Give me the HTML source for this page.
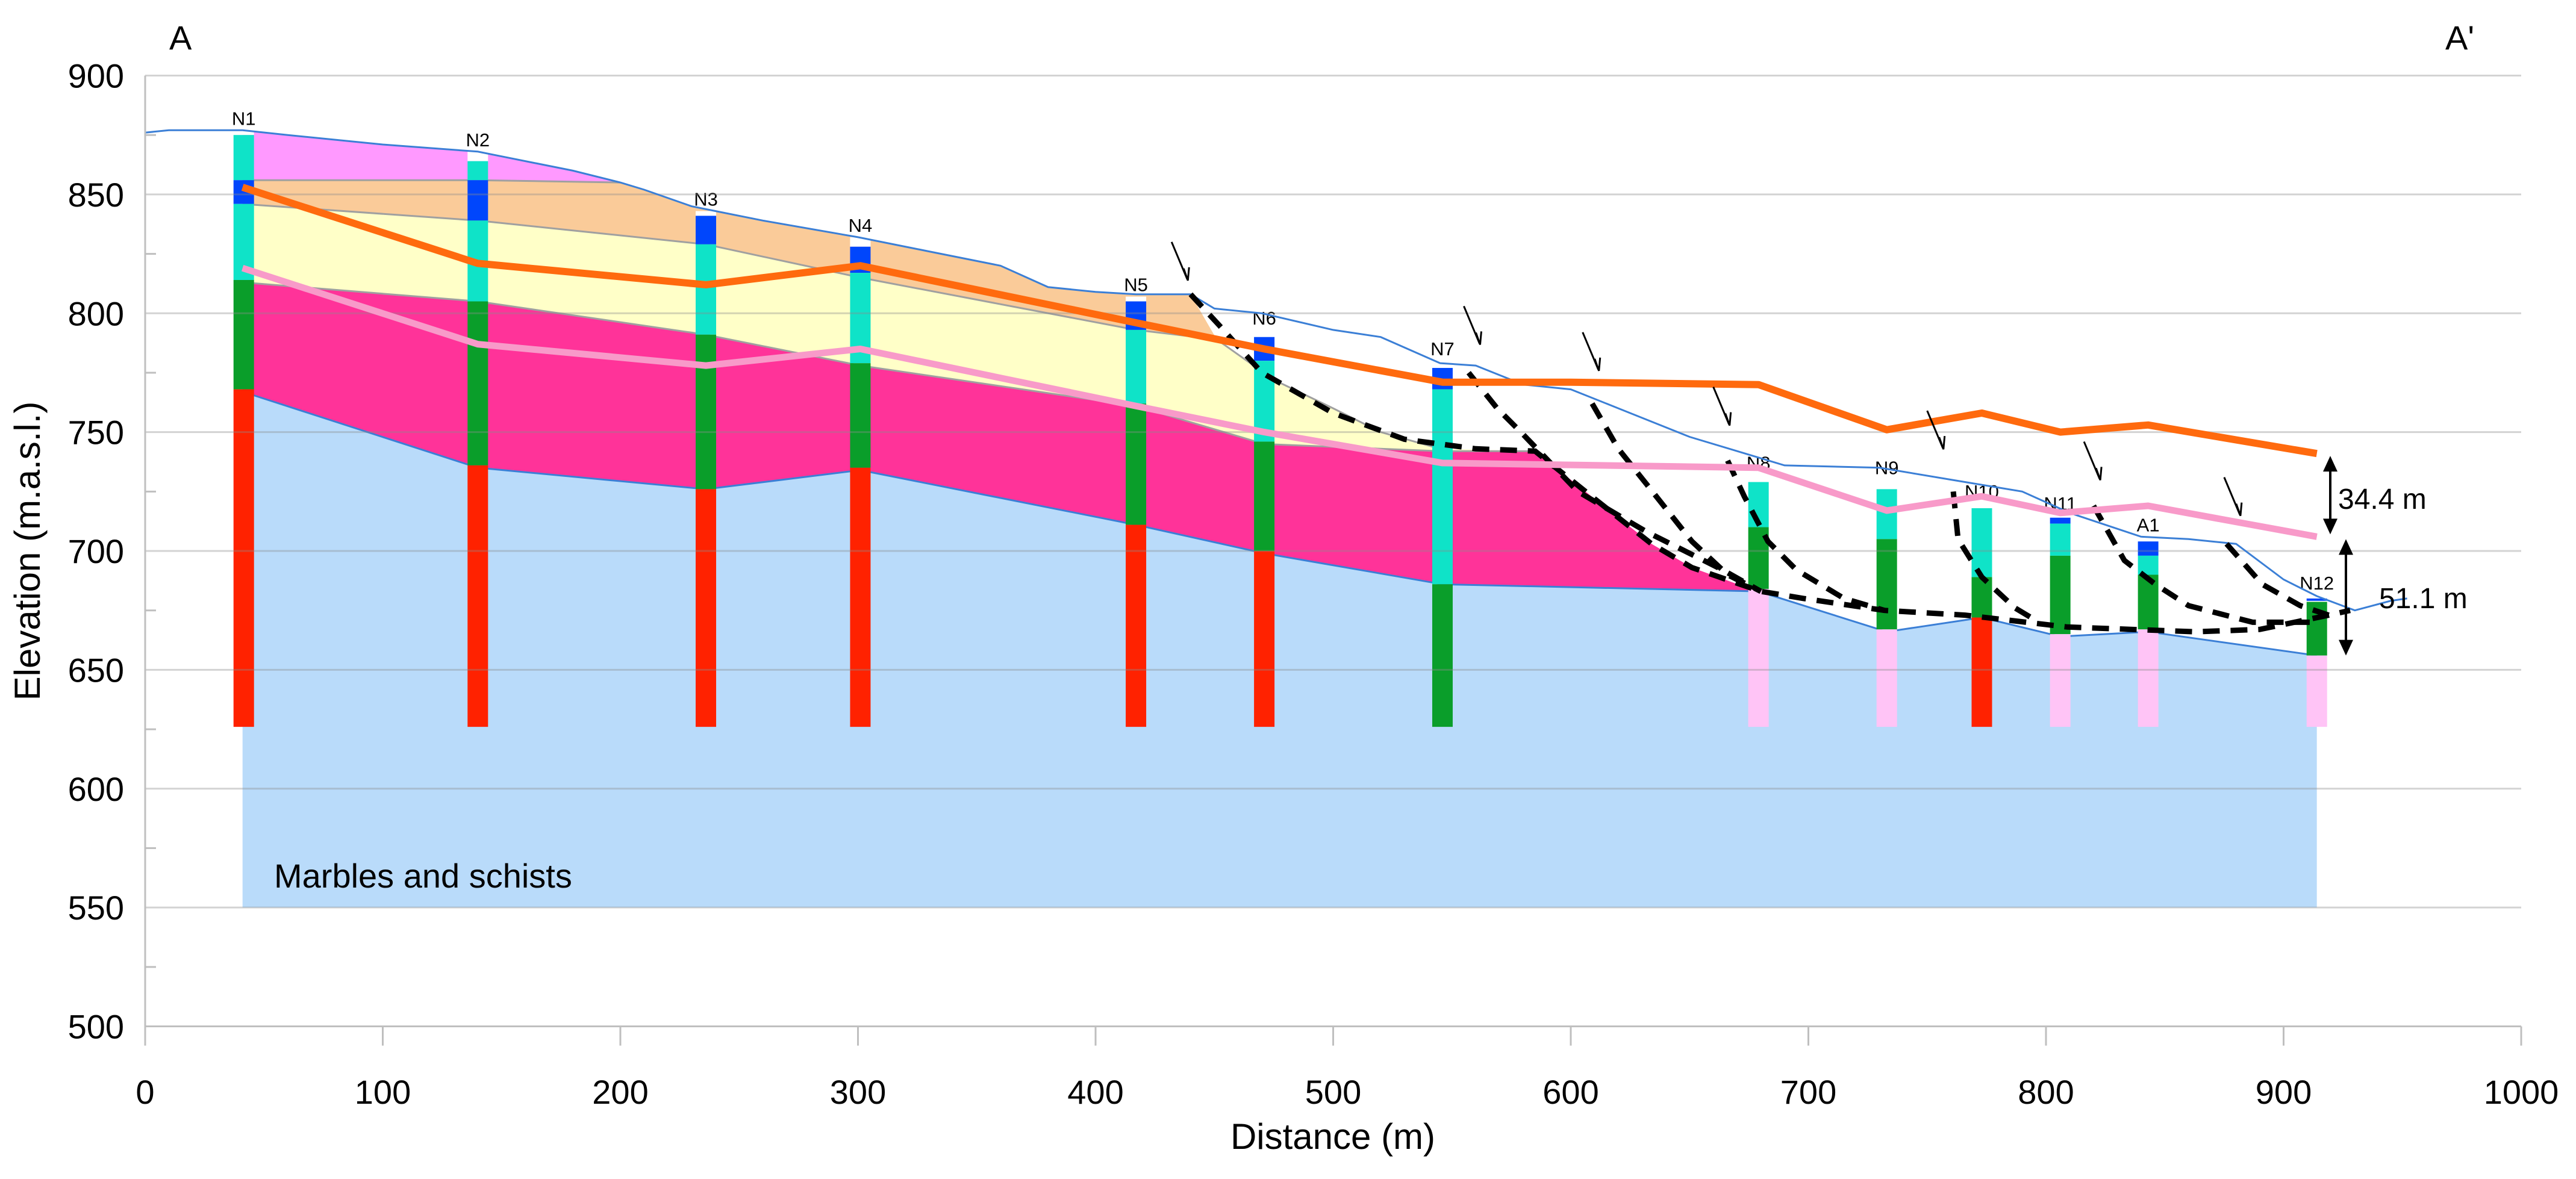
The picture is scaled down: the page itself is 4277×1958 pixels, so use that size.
<!DOCTYPE html>
<html><head><meta charset="utf-8"><style>
html,body{margin:0;padding:0;background:#fff;}
svg{display:block;font-family:"Liberation Sans",sans-serif;}
</style></head><body>
<svg id="chart" width="4277" height="1958" viewBox="0 0 4277 1958" xmlns="http://www.w3.org/2000/svg">
<g id="fills"></g>
<g id="holes"></g>
<g id="grid"></g>
<g id="lines"></g>
<g id="axes"></g>
<text x="281" y="82" font-size="56">A</text>
<text x="4060" y="82" font-size="56">A'</text>
<text x="455" y="1474" font-size="56">Marbles and schists</text>
<text x="2213" y="1908" font-size="60" text-anchor="middle">Distance (m)</text>
<text transform="translate(66,915) rotate(-90)" font-size="60" text-anchor="middle">Elevation (m.a.s.l.)</text>
</svg>
<script>
const X0=241, XS=3.945, Y900=125.5, YS=3.9475;
function X(m){return X0+m*XS;}
function Y(e){return Y900+(900-e)*YS;}
const NS='http://www.w3.org/2000/svg';
function mk(parent,tag,attrs){const el=document.createElementNS(NS,tag);for(const k in attrs)el.setAttribute(k,attrs[k]);document.getElementById(parent).appendChild(el);return el;}
function pts(a){return a.map(p=>X(p[0]).toFixed(1)+','+Y(p[1]).toFixed(1)).join(' ');}

const xTicks=[0,100,200,300,400,500,600,700,800,900,1000];
const yTicks=[500,550,600,650,700,750,800,850,900];
const yMinor=[525,575,625,675,725,775,825,875];

const topo=[[0,876],[10,877],[41,877],[60,875],[100,871],[140,868],[150,866],[180,860],[200,855],[210,852],[230,845],[240,843],[260,839],[300,832],[330,826],[360,820],[380,811],[400,809],[417,808],[440,808],[450,802],[470,800],[500,793],[520,790],[545,779],[560,778],[580,770],[600,768],[620,760],[650,748],[670,742],[690,736],[730,735],[760,730],[790,725],[810,716],[840,706],[860,705],[880,703],[900,688],[914,681],[930,675],[945,679],[952,680]];
const pinkTopBase=[[41,856],[140,856],[200,855]];
const orangeBase=[[41,846],[140,839],[236,829],[301,815],[417,793],[451,789]];
const yellowBase=[[41,813],[140,805],[236,791],[301,778],[417,761],[471,745],[545,742],[585,742]];
const yellowRight=[[451,789],[475,772],[500,760],[520,750],[545,743]];
const magentaRight=[[585,742],[610,722],[634,703],[651,693],[673,685],[679,683]];
const marbleTop=[[41,767],[140,735],[236,726],[301,734],[417,711],[471,699],[546,686],[679,683],[733,666],[773,672],[806,664],[843,666],[914,656]];
const marbleBottom=550;

const waterOrange=[[41,853],[140,821],[236,812],[301,820],[417,796],[471,785],[546,771],[600,771],[679,770],[733,751],[773,758],[806,750],[843,753],[914,741]];
const waterPink=[[41,819],[140,787],[236,778],[301,785],[417,761],[471,750],[546,737],[679,735],[733,717],[773,723],[806,716],[843,719],[914,706]];

const slip1=[[440,808],[452,795],[470,775],[500,758],[530,747],[560,743],[585,742],[610,722],[634,703],[651,693],[680,683],[698,680],[732,675],[766,673],[809,668],[863,666],[890,667],[919,673],[928,675]];
const slip2=[[557,775],[569,760],[579,750],[603,725],[632,708],[664,692],[680,683]];
const slip3=[[609,762],[620,743],[632,728],[651,704],[666,690],[680,683]];
const slip4=[[666,738],[673,723],[683,704],[695,692],[715,680],[732,675]];
const slip5=[[761,725],[763,705],[773,689],[787,676],[797,670]];
const slip6=[[820,719],[833,696],[846,686],[860,677],[887,670],[911,670]];
const slip7=[[876,703],[891,686],[907,677],[919,673]];
const scarpArrows=[[432,830],[555,803],[605,792],[660,769],[750,759],[816,746],[875,731]];

const holeNames=['N1','N2','N3','N4','N5','N6','N7','N8','N9','N10','N11','A1','N12'];
const holeX=[41.5,140,236,301,417,471,546,679,733,773,806,843,914];
const holeSegs=[
 [[877,875,'w'],[875,856,'c'],[856,846,'b'],[846,814,'c'],[814,768,'g'],[768,626,'r']],
 [[868,864,'w'],[864,856,'c'],[856,839,'b'],[839,805,'c'],[805,736,'g'],[736,626,'r']],
 [[843,841,'w'],[841,829,'b'],[829,791,'c'],[791,726,'g'],[726,626,'r']],
 [[832,828,'w'],[828,817,'b'],[817,779,'c'],[779,735,'g'],[735,626,'r']],
 [[807,805,'w'],[805,793,'b'],[793,762,'c'],[762,711,'g'],[711,626,'r']],
 [[793,790,'w'],[790,780,'b'],[780,746,'c'],[746,700,'g'],[700,626,'r']],
 [[780,777,'w'],[777,768,'b'],[768,686,'c'],[686,626,'g']],
 [[732,729,'w'],[729,710,'c'],[710,684,'g'],[684,626,'p']],
 [[730,726,'w'],[726,705,'c'],[705,667,'g'],[667,626,'p']],
 [[720,718,'w'],[718,689,'c'],[689,672,'g'],[672,626,'r']],
 [[715,714,'w'],[714,711.5,'b'],[711.5,698,'c'],[698,665,'g'],[665,626,'p']],
 [[706,704,'w'],[704,698,'b'],[698,690,'c'],[690,667,'g'],[667,626,'p']],
 [[681.5,680,'w'],[680,679,'b'],[679,678.6,'w'],[678.6,656,'g'],[656,626,'p']]
];
const segColor={w:'#ffffff',c:'#0fe3c8',b:'#0046fc',g:'#0a9e2a',r:'#ff2200',p:'#ffc4f6'};

function topoBetween(a,b){return topo.filter(p=>p[0]>a&&p[0]<b);}
let el;
el=mk('fills','polygon',{points:pts([...marbleTop,[914,marbleBottom],[41,marbleBottom]]),fill:'#b9dbfa'});


el=mk('fills','polygon',{points:pts([...yellowBase,...magentaRight.slice(1),...marbleTop.slice(0,8).reverse()]),fill:'#ff3399'});


el=mk('fills','polygon',{points:pts([...orangeBase,...yellowRight.slice(1),...yellowBase.slice().reverse()]),fill:'#ffffc8'});


el=mk('fills','polygon',{points:pts([...pinkTopBase,...topoBetween(200,440),[440,808],...orangeBase.slice().reverse()]),fill:'#facb99'});


el=mk('fills','polygon',{points:pts([[41,877],...topoBetween(41,200),...pinkTopBase.slice().reverse()]),fill:'#ff99ff'});


[pinkTopBase,orangeBase,yellowBase,yellowRight].forEach(b=>{
 el=mk('fills','polyline',{points:pts(b),fill:'none',stroke:'#a0a0a0','stroke-width':3});
 
 
});
el=mk('fills','polyline',{points:pts(marbleTop),fill:'none',stroke:'#3b7fd6','stroke-width':3});



holeX.forEach((hx,i)=>{
 holeSegs[i].forEach(s=>{
  const r=mk('holes','rect',{x:X(hx)-17,y:Y(s[0]),width:34,height:Math.max(1,Y(s[1])-Y(s[0])),fill:segColor[s[2]]});
  
  
 });
 const t=mk('holes','text',{x:X(hx),y:Y(holeSegs[i][0][0])-9,'font-size':31,'text-anchor':'middle'});
 t.textContent=holeNames[i];
 
 
});

yTicks.forEach(v=>{
 if(v===500)return;
 const g=mk('grid','line',{x1:X(0),x2:X(1000),y1:Y(v),y2:Y(v),stroke:'rgba(140,140,140,0.38)','stroke-width':3});
 
 
});

el=mk('lines','polyline',{points:pts(topo),fill:'none',stroke:'#3b7fd6','stroke-width':3});


[slip1,slip2,slip3,slip4,slip5,slip6,slip7].forEach(s=>{
 const d=mk('lines','polyline',{points:pts(s),fill:'none',stroke:'#000','stroke-width':9,'stroke-dasharray':'28,18'});
 
 
});
el=mk('lines','polyline',{points:pts(waterPink),fill:'none',stroke:'#f89ac9','stroke-width':11,'stroke-linejoin':'round'});


el=mk('lines','polyline',{points:pts(waterOrange),fill:'none',stroke:'#ff6a0e','stroke-width':12,'stroke-linejoin':'round'});


scarpArrows.forEach(a=>{
 const x=X(a[0]),y=Y(a[1]);
 const l=mk('lines','line',{x1:x,y1:y,x2:x+26,y2:y+62,stroke:'#000','stroke-width':3});
 
 
 const h=mk('lines','polyline',{points:`${x+20},${y+44} ${x+27},${y+64} ${x+29},${y+42}`,fill:'none',stroke:'#000','stroke-width':3});
 
 
});
function dim(xp,e1,e2,label,lx,ly){
 const y1=Y(e1)+4,y2=Y(e2)-4;
 const l=mk('lines','line',{x1:xp,x2:xp,y1:y1+20,y2:y2-20,stroke:'#000','stroke-width':4});
 
 
 const a1=mk('lines','polygon',{points:`${xp-12},${y1+26} ${xp},${y1} ${xp+12},${y1+26}`,fill:'#000'});
 
 
 const a2=mk('lines','polygon',{points:`${xp-12},${y2-26} ${xp},${y2} ${xp+12},${y2-26}`,fill:'#000'});
 
 
 const t=mk('lines','text',{x:lx,y:ly,'font-size':48});
 t.textContent=label;
 
 
}
dim(3869,741,706,'34.4 m',3882,845);
dim(3895,706,655,'51.1 m',3950,1010);

el=mk('axes','line',{x1:X(0),x2:X(0),y1:Y(900),y2:Y(500)+32,stroke:'#bfbfbf','stroke-width':3});


el=mk('axes','line',{x1:X(0),x2:X(1000),y1:Y(500),y2:Y(500),stroke:'#bfbfbf','stroke-width':3});


xTicks.forEach(v=>{
 const t=mk('axes','line',{x1:X(v),x2:X(v),y1:Y(500),y2:Y(500)+32,stroke:'#bfbfbf','stroke-width':3});
 
 
 const l=mk('axes','text',{x:X(v),y:1833,'font-size':56,'text-anchor':'middle'});
 l.textContent=v;
 
 
});
yTicks.forEach(v=>{
 const l=mk('axes','text',{x:206,y:Y(v)+20,'font-size':56,'text-anchor':'end'});
 l.textContent=v;
 
 
});
yMinor.forEach(v=>{
 const t=mk('axes','line',{x1:X(0),x2:X(0)+18,y1:Y(v),y2:Y(v),stroke:'#bfbfbf','stroke-width':3});
 
 
});
</script>
</body></html>
